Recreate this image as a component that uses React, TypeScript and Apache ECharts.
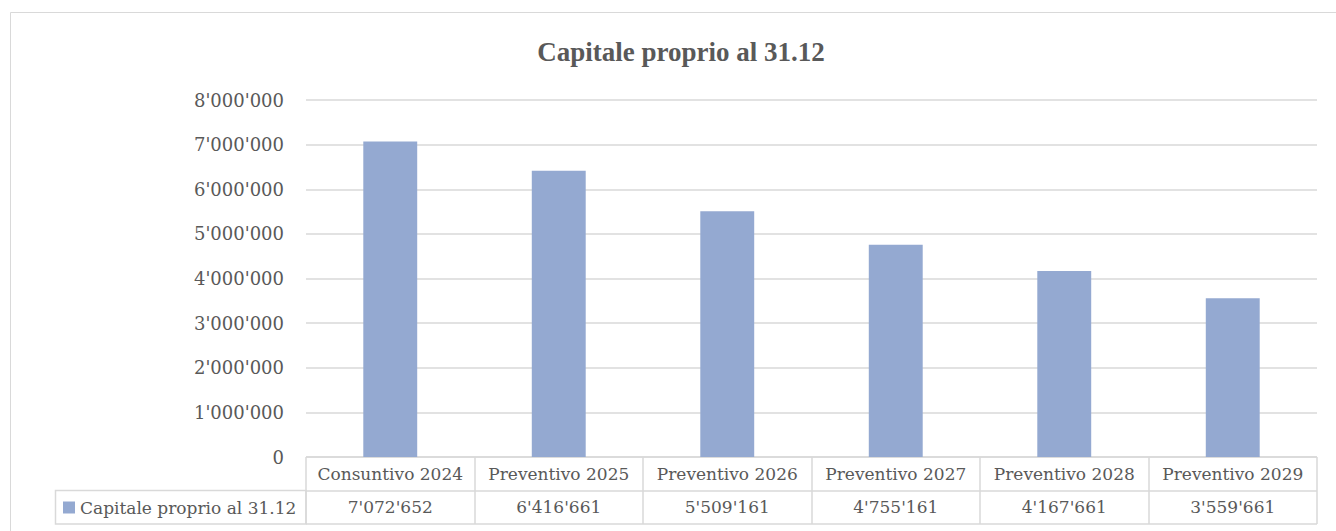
import React, { useEffect, useRef } from "react";
import * as echarts from "echarts";

const titleText = "Capitale proprio al 31.12";
const seriesName = "Capitale proprio al 31.12";
const categories = [
  "Consuntivo 2024",
  "Preventivo 2025",
  "Preventivo 2026",
  "Preventivo 2027",
  "Preventivo 2028",
  "Preventivo 2029",
];
const values = [7072652, 6416661, 5509161, 4755161, 4167661, 3559661];
const yMin = 0;
const yMax = 8000000;
const yInterval = 1000000;

const fmt = (v: number) =>
  String(Math.round(v)).replace(/\B(?=(\d{3})+(?!\d))/g, "'");

const TEXT = "#595959";
const LINE = "#d9d9d9";
const BAR = "#94a9d1";
const SERIF = "'DejaVu Serif', serif";

const tableLabel = (formatter: (p: any) => string) => ({
  show: true,
  position: "inside",
  formatter,
  fontFamily: SERIF,
  fontSize: 17,
  color: TEXT,
  opacity: 1,
  textBorderWidth: 0,
});

export default function App() {
  const ref = useRef<HTMLDivElement>(null);
  useEffect(() => {
    if (!ref.current) return;
    const chart = echarts.init(ref.current, undefined, { renderer: "svg" });
    chart.setOption({
      animation: false,
      backgroundColor: "#ffffff",
      title: {
        text: titleText,
        left: 676,
        textAlign: "center",
        top: 33,
        textStyle: {
          fontFamily: "'Liberation Serif', serif",
          fontWeight: "bold",
          fontSize: 27,
          color: TEXT,
        },
      },
      legend: {
        data: [seriesName],
        left: 63,
        top: 499,
        padding: 0,
        icon: "rect",
        itemWidth: 12,
        itemHeight: 12,
        selectedMode: false,
        textStyle: { fontFamily: SERIF, fontSize: 17, color: TEXT },
      },
      graphic: [
        {
          type: "rect",
          shape: { x: 10.5, y: 12.5, width: 1340, height: 530 },
          style: { fill: "none", stroke: LINE, lineWidth: 1 },
          silent: true,
          z: -1,
        },
        {
          type: "rect",
          shape: { x: 55.5, y: 490.5, width: 250.5, height: 33.5 },
          style: { fill: "none", stroke: LINE, lineWidth: 1.5 },
          silent: true,
        },
      ],
      grid: [
        { left: 306, right: 19, top: 100, bottom: 74 },
        { left: 306, right: 19, top: 457, height: 67 },
      ],
      xAxis: [
        {
          type: "category",
          gridIndex: 0,
          data: categories,
          axisLine: { show: false },
          axisTick: { show: false },
          axisLabel: { show: false },
        },
        {
          type: "category",
          gridIndex: 1,
          data: categories,
          axisLine: { show: false },
          axisTick: { show: false },
          axisLabel: { show: false },
          splitLine: { show: true, lineStyle: { color: LINE, width: 1.5 } },
        },
      ],
      yAxis: [
        {
          type: "value",
          gridIndex: 0,
          min: yMin,
          max: yMax,
          interval: yInterval,
          axisLine: { show: false },
          axisTick: { show: false },
          axisLabel: {
            formatter: (v: number) => fmt(v),
            fontFamily: SERIF,
            fontSize: 18,
            color: TEXT,
            margin: 22,
          },
          splitLine: { lineStyle: { color: LINE, width: 1.5 } },
        },
        {
          type: "value",
          gridIndex: 1,
          min: 0,
          max: 2,
          interval: 1,
          axisLine: { show: false },
          axisTick: { show: false },
          axisLabel: { show: false },
          splitLine: { lineStyle: { color: LINE, width: 1.5 } },
        },
      ],
      series: [
        {
          name: seriesName,
          type: "bar",
          xAxisIndex: 0,
          yAxisIndex: 0,
          data: values,
          barWidth: "32%",
          itemStyle: { color: BAR },
          silent: true,
        },
        {
          name: "header",
          type: "scatter",
          xAxisIndex: 1,
          yAxisIndex: 1,
          symbolSize: 0,
          itemStyle: { color: "#ffffff" },
          silent: true,
          data: categories.map((c) => [c, 1.5]),
          label: tableLabel((p: any) => p.data[0]),
        },
        {
          name: "valuesRow",
          type: "scatter",
          xAxisIndex: 1,
          yAxisIndex: 1,
          symbolSize: 0,
          itemStyle: { color: "#ffffff" },
          silent: true,
          data: categories.map((c, i) => [c, 0.5, values[i]]),
          label: tableLabel((p: any) => fmt(p.data[2])),
        },
      ],
    });
    return () => chart.dispose();
  }, []);
  return (
    <div
      ref={ref}
      style={{ position: "fixed", left: 0, top: 0, width: 1336, height: 531 }}
    />
  );
}
